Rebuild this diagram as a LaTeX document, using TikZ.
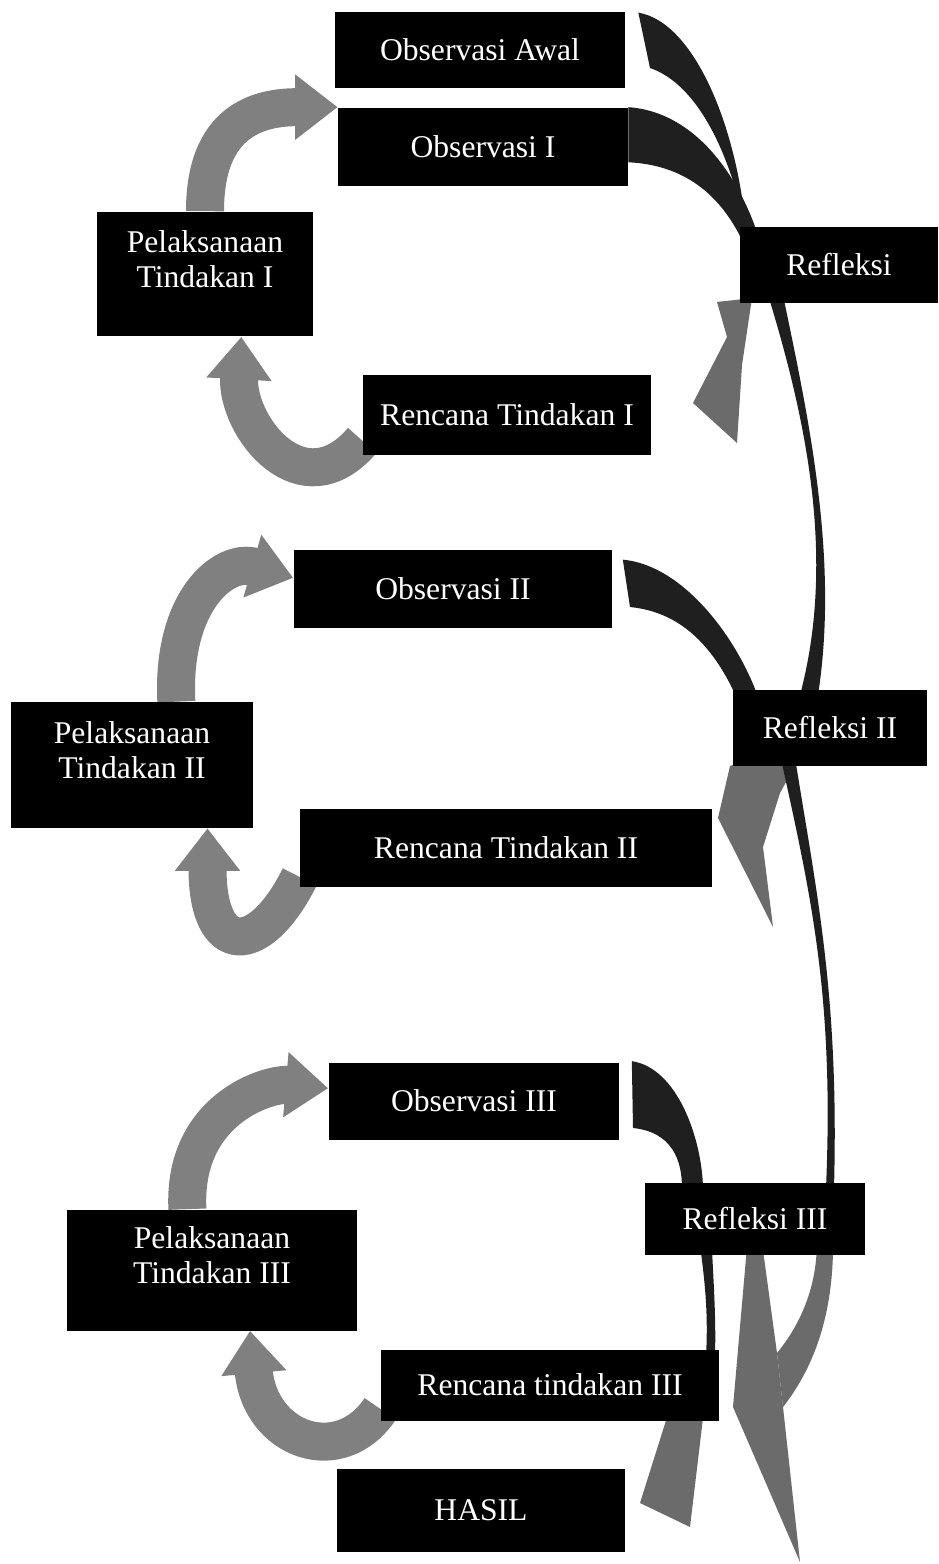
\documentclass[tikz,border=0pt]{standalone}
\usepackage{fontspec}
\setmainfont{Liberation Serif}
\usetikzlibrary{arrows.meta,backgrounds}
\definecolor{cyclegrey}{gray}{0.5}
\definecolor{swooshdark}{gray}{0.12}
\definecolor{headgrey}{gray}{0.42}
\newcommand{\pellines}[2]{\raisebox{0.22cm}[\height][\depth]{\begin{tabular}{@{}c@{}}#1\\#2\end{tabular}}}
\begin{document}
\begin{tikzpicture}[x=0.02cm,y=-0.02cm,
    box/.style={fill=black,text=white,inner sep=0pt,align=center,font=\fontsize{18}{20}\selectfont},
    cyc/.style={draw=cyclegrey,line width=0.76cm,-{Triangle[width=1.25cm,length=0.85cm]}},
    swoosh/.style={fill=swooshdark},
    head/.style={fill=headgrey}]
  \useasboundingbox (0,0) rectangle (938,1564);
  \draw (480,50) node[box,minimum width=5.8cm,minimum height=1.52cm](obsA){Observasi Awal};
  \draw (483,147) node[box,minimum width=5.8cm,minimum height=1.58cm](obs1){Observasi I};
  \draw (205,274) node[box,minimum width=4.32cm,minimum height=2.5cm](pel1){\pellines{Pelaksanaan}{Tindakan I}};
  \draw (839,265) node[box,minimum width=3.96cm,minimum height=1.52cm](refl1){Refleksi};
  \draw (507,415) node[box,minimum width=5.78cm,minimum height=1.6cm](ren1){Rencana Tindakan I};
  \draw (453,589) node[box,minimum width=6.38cm,minimum height=1.56cm](obs2){Observasi II};
  \draw (132,765) node[box,minimum width=4.86cm,minimum height=2.52cm](pel2){\pellines{Pelaksanaan}{Tindakan II}};
  \draw (830,728) node[box,minimum width=3.9cm,minimum height=1.52cm](refl2){Refleksi II};
  \draw (506,848) node[box,minimum width=8.24cm,minimum height=1.56cm](ren2){Rencana Tindakan II};
  \draw (474,1101) node[box,minimum width=5.82cm,minimum height=1.54cm](obs3){Observasi III};
  \draw (755,1219) node[box,minimum width=4.4cm,minimum height=1.44cm](refl3){Refleksi III};
  \draw (212,1270) node[box,minimum width=5.82cm,minimum height=2.42cm](pel3){\pellines{Pelaksanaan}{Tindakan III}};
  \draw (550,1385) node[box,minimum width=6.78cm,minimum height=1.42cm](ren3){Rencana tindakan III};
  \draw (481,1510) node[box,minimum width=5.78cm,minimum height=1.66cm](hasil){HASIL};
  \begin{scope}[on background layer]
    \fill[white] (0,0) rectangle (938,1564);
    \draw[cyc] (pel1.north) .. controls +(0,-90) and +(-80,0) .. (obs1.north west);
    \draw[cyc] (ren1.-170) .. controls +(-60,70) and +(-5,90) .. (pel1.-60);
    \draw[cyc] (pel2.55) .. controls +(-5,-100) and +(-70,-20) .. (obs2.176);
    \draw[cyc] (ren2.-172) .. controls +(-40,80) and +(0,130) .. (pel2.-40);
    \draw[cyc] (pel3.112) .. controls +(-5,-100) and +(-60,-5) .. (obs3.175);
    \draw[cyc] (ren3.-172) .. controls +(-40,60) and +(10,110) .. (pel3.-58);
    \fill[swoosh] (obsA.north east) ++(13,1) .. controls (695,22) and (738,130) .. (746,232)
      .. controls (732,160) and (700,85) .. (650,68) -- cycle;
    \fill[swoosh] (obs1.north east) .. controls (695,112) and (738,175) .. (758,235)
      -- (742,240) .. controls (720,195) and (685,165) .. (obs1.-6) -- cycle;
    \fill[head] (refl1.south west) ++(10,-5) -- (717,302) -- (727,337) -- (693,403)
      -- (737,443) -- (742,365) -- (752,298) -- cycle;
    \fill[swoosh] (refl1.south west) ++(30,-3) .. controls (806,420) and (836,560) .. (800,695)
      -- (818,695) .. controls (839,560) and (809,420) .. (784,300) -- cycle;
    \fill[swoosh] (obs2.north east) ++(10,10) .. controls (682,565) and (735,635) .. (757,694)
      -- (735,694) .. controls (712,645) and (680,612) .. (630,607) -- cycle;
    \fill[head] (refl2.south west) ++(8,-4) -- (730,766) -- (718,818) -- (773,927)
      -- (763,847) -- (780,793) -- (797,762) -- cycle;
    \fill[swoosh] (refl2.south west) ++(50,-2) .. controls (812,900) and (834,1000) .. (826,1188)
      -- (834,1188) .. controls (839,1000) and (818,900) .. (796,764) -- cycle;
    \fill[swoosh] (obs3.north east) ++(12,-1) .. controls (678,1068) and (702,1140) .. (703,1188)
      -- (682,1188) .. controls (682,1160) and (672,1132) .. (633,1128) -- cycle;
    \fill[swoosh] (refl3.south west) ++(56,-5) .. controls (706,1290) and (708,1320) .. (706,1356)
      -- (715,1356) .. controls (716,1320) and (714,1290) .. (712,1250) -- cycle;
    \fill[head] (ren3.south east) ++(-53,-3) -- (640,1503) -- (690,1527) -- (703,1418) -- cycle;
    \fill[head] (refl3.south west) ++(102,-5) -- (733,1407) -- (800,1562) -- (783,1407)
      -- (777,1353) -- (763,1250) -- cycle;
    \fill[head] (refl3.south west) ++(172,-5) .. controls (815,1290) and (800,1325) .. (777,1353)
      -- (783,1407) .. controls (812,1370) and (832,1320) .. (833,1250) -- cycle;
  \end{scope}
\end{tikzpicture}
\end{document}
